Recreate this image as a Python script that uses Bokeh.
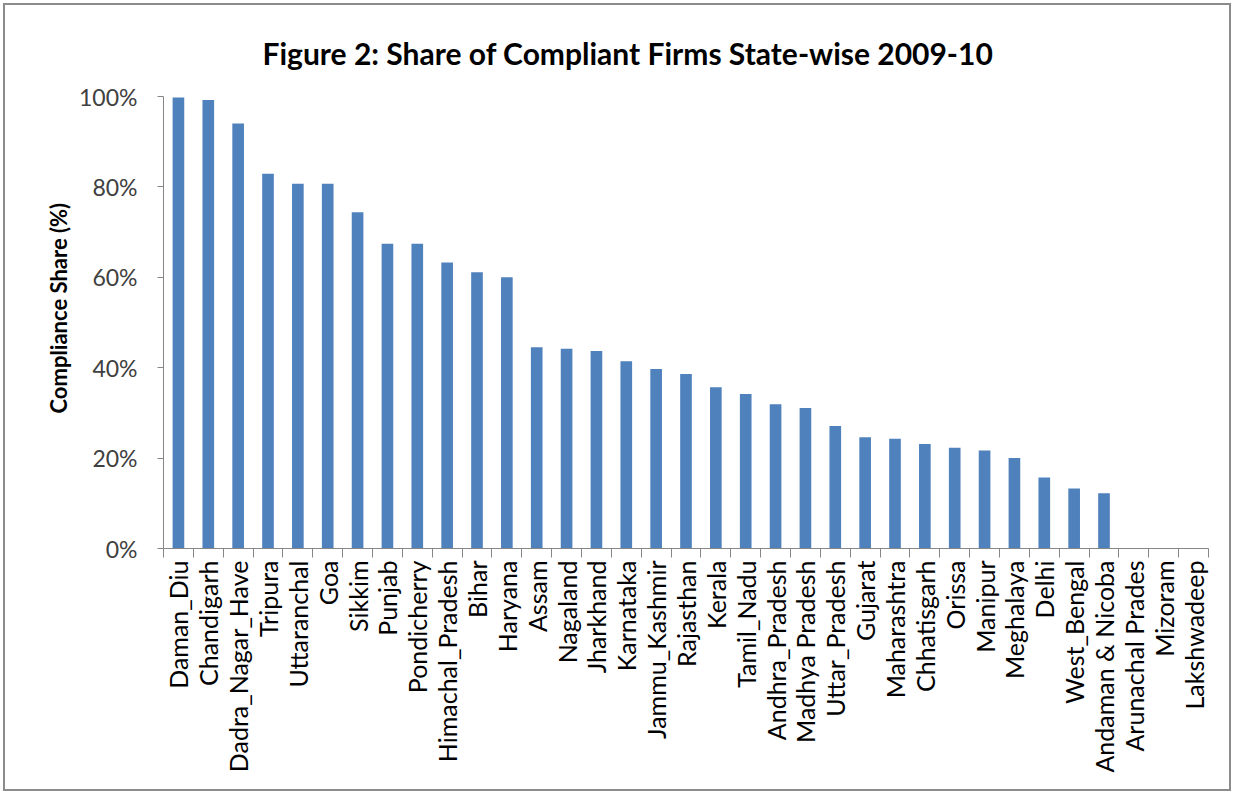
import math
from bokeh.plotting import figure
from bokeh.models import (Range1d, LinearAxis, FixedTicker, NumeralTickFormatter,
                          ColumnDataSource, Title)
from bokeh.embed import file_html
from bokeh.resources import INLINE

states = ["Daman_Diu", "Chandigarh", "Dadra_Nagar_Have", "Tripura", "Uttaranchal", "Goa",
          "Sikkim", "Punjab", "Pondicherry", "Himachal_Pradesh", "Bihar", "Haryana", "Assam",
          "Nagaland", "Jharkhand", "Karnataka", "Jammu_Kashmir", "Rajasthan", "Kerala",
          "Tamil_Nadu", "Andhra_Pradesh", "Madhya Pradesh", "Uttar_Pradesh", "Gujarat",
          "Maharashtra", "Chhatisgarh", "Orissa", "Manipur", "Meghalaya", "Delhi",
          "West_Bengal", "Andaman & Nicoba", "Arunachal Prades", "Mizoram", "Lakshwadeep"]
share = [0.998, 0.992, 0.940, 0.829, 0.807, 0.807, 0.744, 0.674, 0.674, 0.633, 0.611, 0.600,
         0.445, 0.442, 0.437, 0.414, 0.397, 0.386, 0.357, 0.342, 0.319, 0.311, 0.271, 0.246,
         0.243, 0.231, 0.223, 0.217, 0.200, 0.157, 0.133, 0.122, 0.0, 0.0, 0.0]
y_ticks = [0, 0.2, 0.4, 0.6, 0.8, 1.0]
title_text = "Figure 2: Share of Compliant  Firms State-wise 2009-10"
y_label = "Compliance Share (%)"

FONT = "Lato"
GRAY = "#868686"
TXT = "#404040"

n = len(states)
centers = [i + 0.5 for i in range(n)]
src = ColumnDataSource(dict(x=centers, share=share, state=states))

p = figure(x_range=Range1d(0, n), y_range=Range1d(0, 1.0),
           width=1228, height=788, output_backend="svg", toolbar_location=None,
           x_axis_location=None, y_axis_location=None,
           min_border_left=158, min_border_right=25, min_border_top=91, min_border_bottom=245)
p.xgrid.visible = False
p.ygrid.visible = False
p.outline_line_color = None
p.styles = {"border": "2px solid #8c8c8c", "margin": "3px 0 0 3px"}

p.vbar(x="x", top="share", width=0.39, source=src, fill_color="#4F81BD", line_color=None)

yaxis = LinearAxis(ticker=FixedTicker(ticks=y_ticks), formatter=NumeralTickFormatter(format="0%"),
                   axis_line_color=GRAY, major_tick_line_color=GRAY, major_tick_in=0, major_tick_out=6,
                   minor_tick_line_color=None, major_label_standoff=20,
                   major_label_text_font=FONT, major_label_text_font_size="23px",
                   major_label_text_color=TXT)
p.add_layout(yaxis, "left")

ytitle = Title(text=y_label, text_font=FONT, text_font_style="bold", text_font_size="22px",
               align="left", offset=135, standoff=10, text_color="#000000")
p.add_layout(ytitle, "left")

label_axis = LinearAxis(ticker=FixedTicker(ticks=centers, minor_ticks=list(range(n + 1))),
                        major_label_overrides={c: s for c, s in zip(centers, states)},
                        axis_line_color=GRAY, major_tick_line_color=None,
                        minor_tick_line_color=GRAY, minor_tick_in=0, minor_tick_out=9,
                        major_tick_in=0, major_tick_out=0,
                        major_label_orientation=math.pi / 2, major_label_standoff=3,
                        major_label_text_font=FONT, major_label_text_font_size="25px",
                        major_label_text_color="#000000")
p.add_layout(label_axis, "below")

t = Title(text=title_text, text_font=FONT, text_font_style="bold", text_font_size="30px",
          align="left", offset=99, standoff=48, vertical_align="top", text_line_height=1.0,
          text_color="#000000")
p.add_layout(t, "above")

open("out.html", "w").write(file_html(p, INLINE))
